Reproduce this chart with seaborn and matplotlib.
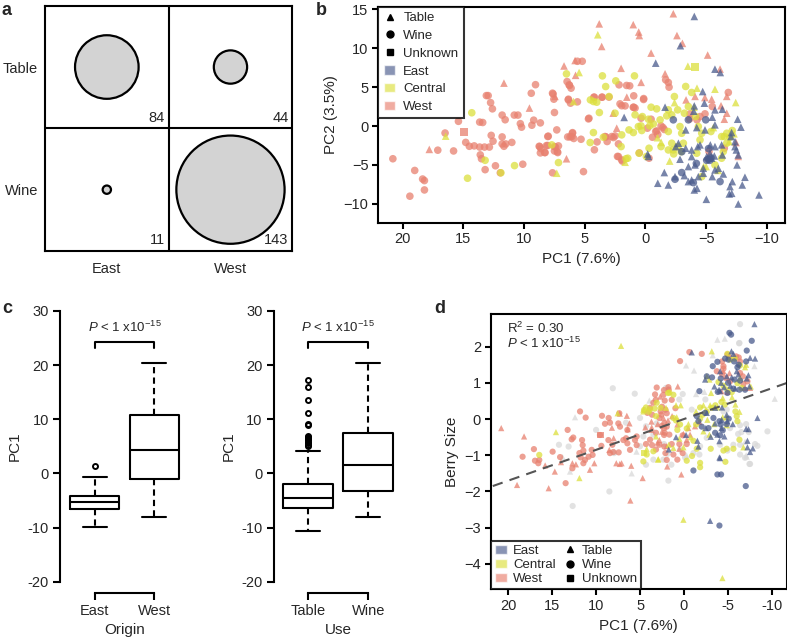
import numpy as np
import pandas as pd
import matplotlib
matplotlib.use("Agg")
import matplotlib.pyplot as plt
from matplotlib.lines import Line2D
from matplotlib.patches import Patch
import seaborn as sns

# ---------------- data ----------------
# panel a: counts per use x origin
origins = ["East", "West"]
uses = ["Table", "Wine"]
counts = {("East", "Table"): 84, ("West", "Table"): 44,
          ("East", "Wine"): 11, ("West", "Wine"): 143}

# panel b: PC1 / PC2 by region and use
b_west_wine = [(20.8, -4.2), (19.4, -9.0), (19.0, -5.7), (18.35, -6.8), (18.2, -7.0), (18.2, -8.2),
               (17.1, -3.1), (16.5, -0.9), (15.8, -3.2), (15.4, 0.6), (14.8, -2.1), (14.5, -2.6),
               (14.1, -2.55), (13.65, 0.5), (13.4, 0.45), (13.65, -2.7), (13.25, -2.7), (13.6, -3.7),
               (13.5, -4.2), (13.2, -5.6), (13.1, 3.9), (12.95, 3.9), (12.75, 3.0), (12.6, 2.2),
               (12.7, -1.2), (12.55, -1.95), (12.85, -2.7), (12.35, -5.1), (11.8, -1.4), (11.8, -2.3),
               (11.65, -2.6), (11.5, -2.3), (11.95, -6.0), (11.8, 1.4), (11.55, 0.8), (11.0, -2.1),
               (10.8, 1.4), (10.5, 1.4), (10.3, 0.3), (10.2, -0.15), (10.1, -4.9), (9.4, 4.2),
               (9.05, 5.3), (9.35, 0.1), (9.2, 0.75), (8.65, 0.4), (8.75, -2.6), (8.6, -2.9),
               (8.65, -3.45), (8.3, -3.4), (8.0, -1.3), (8.05, -2.5), (7.6, 4.1), (7.3, -0.5),
               (7.4, -2.7), (7.25, -3.3), (7.65, -6.0), (6.45, 5.7), (6.25, 5.2), (6.35, 3.35),
               (6.4, -1.4), (6.2, -1.4), (6.0, -0.85), (5.9, -1.6), (5.6, 8.3), (5.2, 8.3),
               (5.6, 3.1), (5.1, -5.85), (4.2, 3.7), (4.2, -3.05), (4.65, 1.0), (3.55, 3.7),
               (3.0, 3.7), (3.25, -1.4), (2.3, -3.9), (1.55, 5.2), (1.95, 2.6), (1.0, 2.4),
               (1.9, -4.5), (0.5, -3.45), (0.15, 3.4), (4.69, 0.91), (4.25, 3.69), (3.59, 3.69),
               (3.98, -2.04), (3.15, -1.99), (2.77, -1.35), (2.5, -1.27), (2.22, -2.29), (2.17, 5.28),
               (1.29, 5.15), (0.96, 3.87), (0.96, 2.41), (2.09, 2.84), (1.67, 2.58), (2.22, -3.92),
               (1.95, -4.35), (3.32, -1.35), (6.28, 5.28), (6.12, 4.85), (6.06, -1.35), (6.01, -0.93),
               (5.3, -1.7), (6.34, 3.44), (6.17, 2.93), (7.65, 4.21), (7.54, 3.44), (7.49, 1.73),
               (8.7, -2.64), (8.26, -3.41), (8.15, -2.51), (7.49, -2.64), (7.49, -3.2), (7.22, -3.41),
               (7.16, -2.55), (8.04, -1.35), (2.63, -1.48), (0.85, 2.3), (-1.67, 5.92), (-1.89, 5.58),
               (-1.95, 4.98), (0.14, 3.52), (-6.83, 4.3), (0.36, 1.0), (-0.47, 0.87), (-1.29, 0.02),
               (-1.45, -0.2), (-0.93, -0.63), (-1.02, -1.1), (-1.56, -0.45), (-3.65, 0.91),
               (-3.68, 1.56), (-4.91, 1.56), (-5.51, 2.5), (-4.25, 0.79), (-4.5, 1.21), (-0.85, -0.71),
               (-0.17, -0.28), (-0.58, -1.44), (-0.3, -4.13), (-6.5, -2.85), (-5.24, -3.28)]
b_west_table = [(17.8, -3.0), (11.65, 5.5), (9.55, 2.3), (7.45, 3.8), (6.5, -4.2), (6.7, 7.7),
                (5.75, 6.5), (5.79, 8.4), (3.8, 13.1), (3.6, 10.2), (2.65, 1.65), (2.36, -0.28),
                (2.0, 7.4), (1.53, 3.7), (1.0, 13.0), (0.55, 12.05), (0.5, 11.6), (0.35, 5.6),
                (-2.3, 14.4), (-2.6, 11.6), (-3.05, 10.6), (-0.47, 9.35), (-5.13, 9.1), (-6.15, 7.3),
                (-1.62, 6.7), (-6.7, 3.8), (-4.09, 3.8), (-4.9, 3.65), (-3.35, 3.35), (-5.46, 3.44),
                (-6.23, 2.6), (-6.7, 1.64), (-6.5, 0.87), (-7.47, -2.12), (-7.65, -3.9)]
b_west_unknown = [(14.95, -0.8)]
b_central_wine = [(14.3, 1.7), (14.65, -6.7), (13.2, -4.4), (10.78, -5.08), (7.71, -2.42), (7.16, -4.69),
                  (6.5, 6.69), (3.54, 6.43), (3.27, 5.06), (2.99, 3.78), (2.44, 5.79), (0.9, 6.43),
                  (4.28, 3.14), (4.01, 3.05), (4.53, 3.35), (3.79, 1.73), (4.28, -0.84), (4.55, -2.12),
                  (3.46, -1.44), (1.95, -1.14), (1.35, -0.5), (0.99, -0.84), (0.36, 0.02), (1.45, -4.13),
                  (2.0, -2.64), (2.5, 1.64), (1.6, -4.2), (11.9, -6.0),
                  (-3.32, 5.07), (-3.81, 4.3), (-2.39, 3.78), (-0.47, 2.41), (-0.93, 2.2), (-1.89, 2.07),
                  (-2.66, 2.07), (-2.17, 1.43), (0.85, 1.43), (0.25, 1.21), (-0.25, 0.87), (-0.66, 0.27),
                  (-1.21, 0.79), (-1.76, 1.3), (0.58, -0.07), (0.3, -0.58), (-0.36, 0.02), (-1.89, -0.71),
                  (-2.85, -0.07), (-2.99, -0.93), (-4.64, -0.93), (-5.4, -0.71), (-6.28, -1.35),
                  (-6.7, -0.93), (-7.16, -0.58), (-6.97, -1.44), (-2.17, -2.21), (-2.66, -2.64),
                  (-3.13, -2.21), (-4.5, -1.78), (-1.89, -3.07), (-2.33, -3.58), (0.52, -3.49),
                  (-0.08, -3.92), (-0.3, -2.85), (-1.29, -2.64), (-2.3, -3.07), (-2.94, -3.28),
                  (-4.23, -3.49), (-4.64, -6.49), (-5.73, -4.99), (-6.28, -4.13), (-6.42, -3.28),
                  (-6.7, -2.21), (-6.5, -1.35), (-4.36, -0.07), (-3.54, 2.5), (-3.21, 1.64), (-4.14, 1.21)]
b_central_table = [(16.45, -1.3), (3.92, 11.7), (5.46, 6.86), (5.93, 3.14), (7.3, -6.06), (1.67, -4.65),
                   (-3.5, 7.67), (-4.25, 4.85), (-5.73, 4.72), (-7.44, 3.01), (-5.0, -5.2), (-2.4, 3.0),
                   (-6.9, -2.0), (-1.0, -1.5), (-2.0, -4.5), (-6.0, -5.7), (-4.8, -5.2), (-4.0, 2.4),
                   (-1.3, -2.1), (-7.3, -1.0), (-5.6, -0.2)]
b_central_unknown = [(-4.09, 7.59)]
b_east_table = [(1.75, 1.1), (-0.25, -3.9), (-4.03, 14.05), (-2.88, 10.3), (-0.85, 8.06), (-5.73, 7.29),
                (-6.17, 6.86), (-4.72, 4.42), (-1.62, 2.41), (-4.03, 2.58), (-4.86, 2.93), (-5.51, 1.13),
                (-3.98, 1.9), (-5.73, 2.07), (-6.34, 2.15), (-7.6, 0.87), (-7.87, -0.15), (-5.73, 0.15),
                (-4.23, -0.2), (-3.32, -0.5), (-4.91, -0.5), (-7.1, -0.84), (-7.05, -1.35), (-7.38, -2.0),
                (-5.35, -2.42), (-5.73, -2.64), (-6.28, -2.42), (-4.5, -2.42), (-4.31, -2.64),
                (-2.72, -2.21), (-2.5, -2.64), (-3.32, -2.85), (-3.81, -3.07), (-5.32, -3.49),
                (-5.05, -3.92), (-5.46, -4.13), (-7.38, -2.64), (-7.65, -3.71), (-7.49, -3.07),
                (-6.34, -3.71), (-0.19, -3.58), (-2.85, -4.26), (-3.81, -3.92), (-5.68, -3.84),
                (-3.54, -5.2), (-4.09, -4.99), (-4.77, -5.42), (-5.73, -5.63), (-4.77, -6.06),
                (-4.36, -6.49), (-7.55, -4.99), (-8.2, -6.57), (-7.16, -7.13), (-7.98, -7.56),
                (-6.97, -7.77), (-5.51, -6.49), (-6.01, -5.42), (-6.42, -6.15), (-1.02, -7.34),
                (-1.56, -5.97), (-1.89, -7.56), (-2.44, -6.49), (-3.21, -6.36), (-4.03, -8.2),
                (-4.25, -7.99), (-5.02, -9.4), (-7.11, -8.63), (-6.91, -8.71), (-7.65, -10.0),
                (-9.36, -8.84), (-3.81, -6.92), (-3.54, -7.13)]
b_east_wine = [(-2.3, 0.79), (-3.54, 0.79), (-4.97, 0.79), (-5.19, -4.27), (-5.3, -4.4), (-5.05, -4.4),
               (-5.4, -4.1), (-2.44, -6.83), (-2.99, -5.97), (-6.15, -7.13), (-3.95, -7.26),
               (-5.2, -2.9), (-4.2, -4.8), (-3.0, -3.3)]

# panel c: boxplot statistics of PC1
origin_stats = {"East": dict(whislo=-9.8, q1=-6.5, med=-5.2, q3=-4.1, whishi=-0.6, fliers=[1.35]),
                "West": dict(whislo=-8.1, q1=-1.05, med=4.4, q3=10.7, whishi=20.4, fliers=[])}
use_stats = {"Table": dict(whislo=-10.7, q1=-6.4, med=-4.6, q3=-2.0, whishi=4.1,
                           fliers=[17.3, 16.0, 13.5, 11.2, 9.2, 8.9, 7.0, 6.8, 6.6, 6.3, 6.1,
                                   5.8, 5.6, 5.3, 5.1]),
             "Wine": dict(whislo=-8.0, q1=-3.15, med=1.65, q3=7.5, whishi=20.4, fliers=[])}

# panel d: PC1 / berry size
d_west_wine = [(18.37, -1.04), (17.08, -0.83), (16.96, -1.15), (16.47, -1.13), (16.58, -1.22),
               (14.95, -0.9), (14.1, -1.05), (13.47, -1.77), (13.24, -0.3), (12.78, -0.56),
               (12.6, -0.51), (12.7, -1.36), (11.83, 0.21), (11.19, 0.04), (11.6, -0.58),
               (11.53, -0.72), (11.45, -0.87), (11.9, -0.94), (11.76, -1.06), (11.45, -1.22),
               (11.26, -1.13), (10.5, -0.85), (10.4, -0.99), (10.85, -1.04), (9.33, 0.09),
               (8.57, 0.03), (8.42, -0.1), (9.56, -0.44), (9.40, -0.74), (8.6, -0.58), (8.15, -0.71),
               (8.42, -0.94), (8.04, -0.91), (7.43, -0.92), (8.99, -0.13), (7.47, -0.12),
               (7.28, -0.21), (7.36, 0.16), (6.44, -0.3), (6.59, -0.53), (6.9, -0.58), (6.44, -0.67),
               (6.14, -0.85), (5.57, -0.58), (5.38, -0.48), (5.38, -0.72), (3.48, 0.45), (3.21, 0.53),
               (3.29, 0.68), (3.10, 0.87), (2.27, 0.80), (1.77, 0.88), (2.23, -0.12), (1.96, -0.21),
               (2.53, -0.19), (2.26, -0.44), (2.23, -0.76), (2.11, -0.94), (1.96, -1.13), (1.39, 0.53),
               (0.97, 0.3), (1.96, 0.16), (0.44, 1.6), (-0.62, 1.85), (-2.03, 1.8), (-4.95, 1.78),
               (-5.18, 1.7), (-5.94, 1.73), (-6.24, 1.7), (-6.39, 1.59), (-4.34, 1.59), (-4.5, 1.46),
               (-4.5, 1.39), (-3.74, 1.32), (-4.34, 1.24), (-4.8, 1.13), (-5.25, 1.04), (-6.39, 1.27),
               (-6.7, 1.18), (-6.77, 0.97), (-7.23, 1.04), (1.73, 0.81), (2.34, 0.67), (2.19, 0.51),
               (2.49, 0.34), (2.65, 0.21), (3.63, 0.12), (4.16, 0.17), (3.86, 0.31), (4.32, -0.69),
               (3.63, -0.72), (2.19, -0.38), (2.27, -0.25), (3.86, -0.57), (3.18, -0.84), (2.8, -0.71),
               (1.2, -0.98), (0.75, -1.12), (0.14, -0.94), (1.39, -0.69), (0.52, -0.69), (-0.32, -0.69),
               (0.14, -0.45), (1.66, -0.43), (2.8, 0.03), (2.57, 0.12), (2.11, 0.26), (3.18, -0.38)]
d_west_table = [(20.8, -0.25), (18.2, -0.48), (19.0, -1.82), (15.8, -1.28), (14.7, -1.45), (15.4, -1.91),
                (14.0, -1.19), (12.7, -1.22), (12.3, -1.25), (10.7, -1.40), (10.2, -1.22), (7.7, -1.22),
                (7.1, -1.22), (8.2, -0.24), (8.0, -0.53), (8.5, -0.85), (7.3, 0.15), (6.5, 0.09),
                (6.2, -0.12), (6.4, -0.28), (7.3, -1.24), (6.0, -1.29), (6.1, -2.25), (4.7, -1.63),
                (3.0, -0.65), (3.7, -0.3), (3.7, -0.07), (1.9, -1.31), (0.7, 0.90), (2.7, 0.62),
                (2.5, -0.35), (2.8, -0.58), (0.3, -1.53), (0.52, -0.82), (-0.32, -0.57), (-0.7, -0.43),
                (1.96, -0.75), (0.06, -0.41), (-0.5, -0.25), (-1.27, -0.2), (-1.76, -0.08),
                (0.75, -0.15), (1.81, -0.04), (1.35, 0.08), (2.34, 0.03), (2.99, -0.14), (3.67, -0.23),
                (4.39, -0.23), (-4.27, 0.77), (-4.95, 0.75), (-6.96, 0.86), (-7.53, 0.86), (-4.5, 1.32),
                (-5.18, 1.27)]
d_west_unknown = [(9.5, -0.44)]
d_central_wine = [(16.47, -0.99), (4.54, 0.25), (3.86, 0.27), (1.81, 0.72), (1.2, 0.67), (2.65, 0.31),
                  (3.33, 0.29), (4.32, 0.32), (4.01, 0.2), (3.18, 0.08), (1.2, 0.03), (0.9, -0.04),
                  (0.44, -0.15), (0.75, -0.3), (-0.32, -0.26), (-1.38, -0.15), (-1.84, 0.01),
                  (-2.14, 0.12), (-2.6, 0.2), (-3.2, 0.31), (-3.58, 0.38), (-1.84, 0.32), (-4.27, 0.47),
                  (-4.65, 0.4), (-5.86, 0.21), (-6.01, 0.08), (-6.09, -0.06), (-3.93, 1.02), (-4.5, 0.92),
                  (-6.09, 0.99), (-6.58, 0.86), (-5.44, 0.74), (-4.95, 0.81), (-4.95, 1.8), (-5.25, 1.64),
                  (-5.79, 1.67), (-6.39, 1.48), (-4.87, -0.82), (-5.63, -0.82), (-4.5, -0.87),
                  (-4.72, -1.18), (-6.32, -0.57), (-1.46, -0.82), (-1.08, -0.6), (-0.32, -1.15),
                  (-1.84, -1.33), (-1.84, -1.21), (-3.05, -0.82), (-0.92, -1.02), (3.48, -0.89),
                  (4.62, -1.17), (4.24, -0.98), (1.66, 0.73), (3.1, 0.45)]
d_central_table = [(7.16, 2.02), (0.06, -2.78), (-4.38, -4.39), (14.57, -0.36), (11.9, -1.63),
                   (7.55, 0.16), (4.62, 0.21), (4.24, -0.83), (2.91, -1.11), (1.73, -0.71),
                   (-3.17, 1.87), (-7.08, 1.5), (-6.96, 1.43), (-6.39, 1.13), (-2.6, 1.18), (-2.9, 1.09),
                   (-3.09, 0.72), (-7.61, 0.9), (4.62, 0.26), (2.04, 0.31), (0.9, 0.38), (0.37, 0.38),
                   (0.82, 0.05), (-0.51, -0.14), (-1.38, 0.21), (-2.22, 0.38), (-2.98, 0.38),
                   (-2.52, 0.26), (-4.42, 0.58), (-3.81, 0.32), (-5.48, 0.6), (-5.86, 0.4), (-6.32, 0.2),
                   (-4.87, 0.05), (-3.43, -0.14), (-2.67, -0.02), (-4.42, 0.05), (-4.87, -0.17),
                   (-2.22, -0.34), (2.95, -1.12), (1.2, -0.8), (0.52, -0.54), (0.06, -0.78),
                   (-0.77, -0.5), (-2.9, -0.43), (-6.77, -0.78), (3.18, -0.48)]
d_central_unknown = [(4.54, -0.93)]
d_east_table = [(-8.03, 2.62), (-5.41, 1.87), (-5.63, 1.8), (-0.89, 1.84), (-7.53, 1.69), (-8.1, 1.67),
                (-4.12, 1.32), (-4.87, 1.18), (-5.44, 1.15), (-7.34, 1.21), (-6.01, 1.32), (-6.2, 1.23),
                (-7.15, 1.12), (-2.41, 1.09), (-4.23, 1.0), (-3.47, 0.9), (-4.0, 0.81), (-4.57, 0.88),
                (-5.29, 0.92), (-5.82, 0.84), (-7.46, 0.9), (-4.12, 0.77), (-2.6, 0.17), (-3.55, 0.31),
                (-4.34, 0.32), (-4.87, 0.12), (-4.3, -0.02), (-4.95, -0.06), (-5.56, -0.14),
                (-4.27, -0.25), (-3.81, -0.43), (-4.61, -0.48), (-4.04, -0.61), (-7.08, -0.27),
                (-8.37, 0.03), (-7.23, -0.6), (-7.23, -0.78), (-7.53, -0.91), (-1.53, -0.6),
                (-3.05, -0.49), (0.9, -0.5), (1.73, -0.84), (-4.04, -1.06), (-2.48, -0.25),
                (-2.98, -2.81), (-7.35, -0.28), (-7.84, -0.81), (-4.12, -1.08), (-0.24, -0.44),
                (-1.65, -0.76), (-3.55, -0.12)]
d_east_wine = [(-5.18, 2.38), (-5.37, 2.33), (-7.72, 2.16), (-4.69, 1.67), (-5.06, 1.64), (-5.71, 1.59),
               (-7.15, 1.89), (-7.08, 1.59), (-6.24, 1.5), (-6.09, 1.43), (-3.81, 1.58), (-3.28, 1.46),
               (-2.6, 1.18), (-3.2, 1.15), (-4.19, 1.12), (-5.03, 1.0), (-5.75, 1.09), (-6.39, 1.06),
               (-1.76, 0.77), (-3.85, 0.75), (-4.95, 0.72), (-5.63, 0.84), (-6.32, 0.81), (-6.96, 0.81),
               (-1.46, 0.08), (-2.41, 0.17), (-3.36, 0.03), (-4.04, -0.06), (-4.87, -0.14),
               (-4.42, -0.31), (-3.55, -0.38), (-4.12, -0.45), (-2.79, -0.25), (-2.03, -0.21),
               (-1.65, -0.06), (-5.1, 0.01), (-4.19, -0.15), (-1.08, -1.42), (-3.81, -1.53),
               (-4.23, -1.53), (-7.04, -1.85), (-4.04, -2.94)]
d_other_wine = [(8.49, -2.0), (12.67, -2.4), (14.23, -0.71), (13.13, -0.76), (7.96, -0.94), (1.77, -1.7),
                (-6.39, 2.62), (-6.32, 2.1), (-6.17, -0.41), (-6.55, -0.36), (-7.38, -0.36),
                (-6.39, -0.71), (-9.51, -0.34), (-6.96, -1.07), (-7.53, -1.24), (-5.63, -0.71),
                (-4.95, -0.87), (-6.39, -0.98), (-1.76, -0.98), (-8.1, -0.69), (5.0, 0.03), (4.32, -0.2),
                (4.62, -0.48), (3.48, -0.43), (5.0, -0.75), (4.32, -1.26), (2.27, -0.69), (1.43, -1.26),
                (-1.08, -0.94), (-1.84, -0.75), (-2.6, -0.52), (-0.13, -1.06), (1.89, -0.96),
                (0.44, -0.84), (2.34, -1.12), (3.48, -1.12), (-0.89, 0.26), (-2.44, 0.54), (-4.5, 0.21),
                (-4.8, -0.02), (-5.25, -0.25), (-6.39, -0.17), (-7.08, -0.14), (-4.12, -0.71),
                (-4.87, 0.26), (2.04, 0.86), (0.52, 0.54), (0.14, 0.69), (-8.37, -0.74), (-7.46, -1.24),
                (-6.28, 2.09), (3.1, -0.12), (5.6, 0.7), (8.1, 0.85), (10.0, -0.3), (6.6, -0.1)]
d_other_table = [(12.4, 0.05), (12.97, -1.45), (13.81, -1.05), (7.92, -0.9), (5.95, -1.5), (3.94, 0.51),
                 (-3.81, 2.19), (-4.65, 2.22), (-0.24, 1.48), (-1.15, 1.34), (-1.38, 0.69),
                 (-2.33, 0.75), (-10.34, 0.56), (-6.96, -0.63), (-7.08, -1.0), (-8.03, 1.46),
                 (-3.28, 1.76), (-7.15, -1.04), (-0.3, -1.0), (5.4, -0.9)]

fit_slope = -0.085
fit_intercept = 0.0
r2_text = "R$^2$ = 0.30"
p_text = "$P$ < 1 x10$^{-15}$"

region_colors = {"East": "#4a5b8c", "Central": "#dcdf3c", "West": "#e8806f", "Other": "#d9d9d9"}
use_markers = {"Table": "^", "Wine": "o", "Unknown": "s"}


def to_frame(groups):
    rows = [(x, y, reg, use) for reg, use, pts in groups for x, y in pts]
    return pd.DataFrame(rows, columns=["pc1", "val", "region", "use"])


df_b = to_frame([("West", "Wine", b_west_wine), ("West", "Table", b_west_table),
                 ("West", "Unknown", b_west_unknown), ("Central", "Wine", b_central_wine),
                 ("Central", "Table", b_central_table), ("Central", "Unknown", b_central_unknown),
                 ("East", "Table", b_east_table), ("East", "Wine", b_east_wine)])
df_d = to_frame([("Other", "Wine", d_other_wine), ("Other", "Table", d_other_table),
                 ("West", "Wine", d_west_wine), ("West", "Table", d_west_table),
                 ("West", "Unknown", d_west_unknown), ("Central", "Wine", d_central_wine),
                 ("Central", "Table", d_central_table), ("Central", "Unknown", d_central_unknown),
                 ("East", "Table", d_east_table), ("East", "Wine", d_east_wine)])

# ---------------- style ----------------
sns.set_theme(style="white")
plt.rcParams["font.family"] = ["Liberation Sans", "DejaVu Sans"]
plt.rcParams["mathtext.fontset"] = "custom"
plt.rcParams["mathtext.rm"] = "Liberation Sans"
plt.rcParams["mathtext.it"] = "Liberation Sans:italic"
plt.rcParams["font.size"] = 10.5
LW = 1.5

fig = plt.figure(figsize=(7.87, 6.43), dpi=100)
W, H = 787, 643


def px_axes(x0, y0, x1, y1):
    return fig.add_axes([x0 / W, 1 - y1 / H, (x1 - x0) / W, (y1 - y0) / H])


def style_ticks(ax):
    ax.tick_params(direction="out", length=4, width=LW, color="black", labelsize=10.5,
                   bottom=True, left=True, pad=3)
    for s in ax.spines.values():
        s.set_linewidth(LW)
        s.set_color("black")


# ---------------- panel a ----------------
ax_a = px_axes(45, 5.7, 292.3, 251)
df_a = pd.DataFrame([(o, u, counts[(o, u)]) for o in origins for u in uses],
                    columns=["origin", "use", "n"])
df_a["xi"] = df_a["origin"].map({o: i for i, o in enumerate(origins)})
df_a["yi"] = df_a["use"].map({u: len(uses) - 1 - i for i, u in enumerate(uses)})
sizes = {n: (0.545 * n) ** 2 for n in df_a["n"]}
sns.scatterplot(data=df_a, x="xi", y="yi", size="n", sizes=sizes, color="#d3d3d3",
                edgecolor="black", linewidth=1.6, legend=False, ax=ax_a, zorder=3)
for _, r in df_a.iterrows():
    ax_a.text(r.xi + 0.47, r.yi - 0.47, str(r.n), ha="right", va="bottom", fontsize=10.5)
ax_a.axvline(0.5, color="black", lw=LW)
ax_a.axhline(0.5, color="black", lw=LW)
ax_a.set_xlim(-0.5, 1.5)
ax_a.set_ylim(-0.5, 1.5)
ax_a.set_xticks(range(len(origins)), origins)
ax_a.set_yticks([len(uses) - 1 - i for i in range(len(uses))], uses)
ax_a.set_xlabel("")
ax_a.set_ylabel("")
style_ticks(ax_a)
ax_a.tick_params(length=0, pad=5, labelsize=10.5)
ax_a.tick_params(axis="x", pad=8)

# ---------------- panel b ----------------
ax_b = px_axes(378.3, 6.7, 785, 222.7)
sns.scatterplot(data=df_b, x="pc1", y="val", hue="region", style="use", palette=region_colors,
                markers=use_markers, s=30, linewidth=0, alpha=0.75, legend=False, ax=ax_b)
ax_b.set_xlim(22, -11.5)
ax_b.set_ylim(-12.4, 15.3)
ax_b.set_xticks([20, 15, 10, 5, 0, -5, -10])
ax_b.set_yticks([15, 10, 5, 0, -5, -10])
ax_b.set_xlabel("PC1 (7.6%)", fontsize=11)
ax_b.set_ylabel("PC2 (3.5%)", fontsize=11)
style_ticks(ax_b)

shape_handles = [Line2D([], [], marker=use_markers[u], color="black", ls="", ms=5, label=u)
                 for u in ["Table", "Wine", "Unknown"]]
region_handles = [Patch(facecolor=region_colors[r], alpha=0.65, label=r)
                  for r in ["East", "Central", "West"]]
leg = ax_b.legend(handles=shape_handles + region_handles, loc="upper left", borderaxespad=0,
                  fontsize=9.5, frameon=True, fancybox=False, edgecolor="black", handlelength=0.9,
                  handleheight=0.7, handletextpad=0.6, labelspacing=0.42, borderpad=0.4)
leg.get_frame().set_linewidth(LW)

# ---------------- panel c ----------------
def box_panel(ax, stats, xlabel):
    labels = list(stats.keys())
    bstats = [dict(label=k, **v) for k, v in stats.items()]
    ax.bxp(bstats, positions=range(1, len(labels) + 1), widths=0.83, capwidths=0.4,
           boxprops=dict(color="black", lw=LW), medianprops=dict(color="black", lw=LW),
           whiskerprops=dict(color="black", lw=LW, ls=(0, (3, 2))),
           capprops=dict(color="black", lw=LW),
           flierprops=dict(marker="o", mfc="none", mec="black", ms=3.6, mew=1.4))
    ax.set_xlim(0.42, 2.58)
    ax.set_ylim(-22, 32)
    ax.set_yticks([-20, -10, 0, 10, 20, 30], [f"{v:g}" for v in [-20, -10, 0, 10, 20, 30]])
    ax.set_xticks([1, 2], labels)
    ax.spines[["top", "right"]].set_visible(False)
    ax.spines["left"].set_bounds(-20, 30)
    ax.spines["bottom"].set_bounds(1, 2)
    style_ticks(ax)
    ax.tick_params(length=5)
    ax.set_ylabel("PC1", fontsize=11)
    ax.set_xlabel(xlabel, fontsize=11)
    ax.plot([1, 1, 2, 2], [23.2, 24.3, 24.3, 23.2], color="black", lw=LW)
    ax.text(1.5, 25.6, p_text, ha="center", va="bottom", fontsize=9.5)


ax_c1 = px_axes(60, 300, 189, 592.7)
box_panel(ax_c1, origin_stats, "Origin")
ax_c2 = px_axes(273.5, 300, 403, 592.7)
box_panel(ax_c2, use_stats, "Use")

# ---------------- panel d ----------------
ax_d = px_axes(490.7, 314, 786.7, 589.3)
sns.scatterplot(data=df_d, x="pc1", y="val", hue="region", style="use", palette=region_colors,
                markers=use_markers, s=20, linewidth=0, alpha=0.75, legend=False, ax=ax_d)
ax_d.axline((0, fit_intercept), slope=fit_slope, color="#555555", lw=1.5, ls=(0, (5, 3.5)))
ax_d.set_xlim(22, -11.7)
ax_d.set_ylim(-4.7, 2.9)
ax_d.set_xticks([20, 15, 10, 5, 0, -5, -10], [f"{v:g}" for v in [20, 15, 10, 5, 0, -5, -10]])
ax_d.set_yticks([2, 1, 0, -1, -2, -3, -4])
ax_d.set_xlabel("PC1 (7.6%)", fontsize=11)
ax_d.set_ylabel("Berry Size", fontsize=11)
style_ticks(ax_d)
ax_d.text(0.054, 0.975, r2_text + "\n" + p_text, transform=ax_d.transAxes, ha="left", va="top",
          fontsize=9.5, linespacing=1.0)
leg_d = ax_d.legend(handles=region_handles + shape_handles, loc="lower left", ncol=2,
                    borderaxespad=0, fontsize=9.5, frameon=True, fancybox=False, edgecolor="black",
                    handlelength=0.9, handleheight=0.7, handletextpad=0.5, labelspacing=0.15,
                    borderpad=0.3, columnspacing=0.6)
leg_d.get_frame().set_linewidth(LW)

# panel letters
for lab, x, y in [("a", 2, 2), ("b", 316, 2), ("c", 2, 300), ("d", 434, 300)]:
    fig.text(x / W, 1 - y / H, lab, ha="left", va="top", fontsize=13, fontweight="bold")

fig.savefig("out.png", dpi=100)
